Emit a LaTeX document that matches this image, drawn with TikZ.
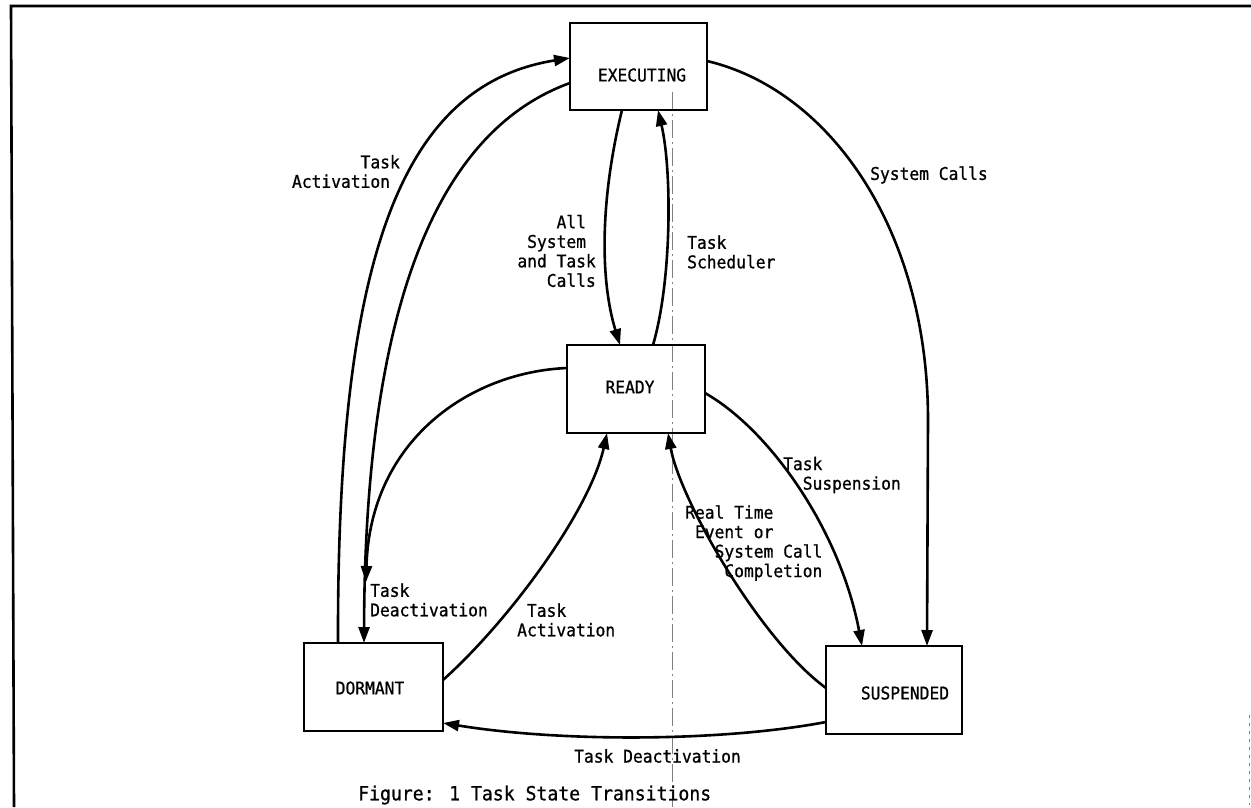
\documentclass[tikz,border=0pt]{standalone}
\usepackage{fontspec}
\usetikzlibrary{arrows.meta,calc}
\newfontfamily\lblfont[FakeStretch=0.93,FakeBold=0.8]{DejaVu Sans Mono}
\begin{document}
\begin{tikzpicture}[x=1pt,y=-1pt,
  statebox/.style={draw,line width=2.8pt,rectangle,inner sep=0pt,outer sep=0pt,minimum width=137pt,minimum height=87pt},
  lbl/.style={font=\lblfont\fontsize{17.5}{19.5}\selectfont,inner sep=0pt},
  caption/.style={font=\lblfont\fontsize{19.5}{22}\selectfont,inner sep=0pt},
  conn/.style={line width=2.6pt},
  arr/.style={conn,-{Triangle[length=16pt,width=11pt]}},
  frame/.style={line width=2.6pt},
  fold/.style={gray,line width=0.8pt,dash pattern=on 18pt off 4pt on 2pt off 4pt}]
\useasboundingbox (0,0) rectangle (1251,807);
\fill[white] (0,0) rectangle (1251,807);
% frame
\coordinate (fA) at (1251,6);
\coordinate (fB) at (11,6);
\coordinate (fC) at (14,807);
\draw[frame] (fA) -- (fB) -- (fC);
\coordinate (foldtop) at (672,92);
\coordinate (foldbot) at (672,807);
\draw[fold] (foldtop) -- (foldbot);
\coordinate (edgetop) at (1249,715);
\coordinate (edgebot) at (1249,805);
\draw[gray,line width=0.8pt,dash pattern=on 3pt off 5pt] (edgetop) -- (edgebot);
% states
\node[statebox] (exec) at (638.5,66.5) {};
\node[statebox,minimum width=138pt,minimum height=88pt] (ready) at (636,389) {};
\node[statebox,minimum width=139pt,minimum height=88pt] (dorm) at (373.5,687) {};
\node[statebox,minimum width=136pt,minimum height=88pt] (susp) at (894,690) {};
\node[lbl] (exect) at (642,75) {EXECUTING};
\node[lbl] (readyt) at (630,387) {READY};
\node[lbl] (dormt) at (370,688) {DORMANT};
\node[lbl] (suspt) at (905,693) {SUSPENDED};
% connectors
\draw[arr] ($(dorm.north)+(-35.5,0)$) .. controls (337,260) and (400,85) .. ($(exec.west)+(0,-8.5)$);
\draw[arr] ($(exec.west)+(0,16.5)$) .. controls (440,130) and (365,300) .. ($(dorm.north)+(-9.5,0)$);
\coordinate (rdend) at (366,582);
\draw[arr] ($(ready.west)+(0,-21)$) .. controls (470,372) and (370,440) .. (rdend);
\draw[arr] ($(exec.south)+(-16.5,0)$) .. controls (600,200) and (600,280) .. ($(ready.north)+(-16,0)$);
\draw[arr] ($(ready.north)+(17,0)$) .. controls (672,280) and (672,170) .. ($(exec.south)+(19.5,0)$);
\coordinate (scbend) at (928,420);
\draw[arr] ($(exec.east)+(0,-5.5)$) .. controls (830,90) and (928,230) .. (scbend) -- ($(susp.north)+(33,0)$);
\draw[arr] ($(ready.east)+(0,4)$) .. controls (770,430) and (840,530) .. ($(susp.north)+(-32,0)$);
\draw[arr] ($(susp.west)+(0,-2)$) .. controls (760,640) and (680,500) .. ($(ready.south)+(32,0)$);
\draw[arr] ($(dorm.east)+(0,-7)$) .. controls (510,620) and (590,510) .. ($(ready.south)+(-29,0)$);
\draw[arr] ($(susp.west)+(0,32)$) .. controls (720,742) and (560,742) .. ($(dorm.east)+(0,36)$);
% labels
\node[lbl,align=right,anchor=east] (l1) at (400,171.5) {Task\\Activation\phantom{x}};
\node[lbl,align=right,anchor=east] (l2) at (596,251) {All\phantom{x}\\System\phantom{x}\\and Task\\Calls};
\node[lbl,align=left,anchor=west] (l3) at (687,252) {Task\\Scheduler};
\node[lbl,anchor=west] (l4) at (870,175) {System Calls};
\node[lbl,align=left,anchor=west] (l5) at (783,475) {Task\\\phantom{xx}Suspension};
\node[lbl,align=left,anchor=west] (l6) at (685,543) {Real Time\\\phantom{x}Event or\\\phantom{xxx}System Call\\\phantom{xxxx}Completion};
\node[lbl,align=left,anchor=west] (l7) at (370,600) {Task\\Deactivation};
\node[lbl,align=left,anchor=west] (l8) at (517,620) {\phantom{x}Task\\Activation};
\node[lbl,anchor=west] (l9) at (574,756) {Task Deactivation};
\node[caption,anchor=west] (cap) at (358,795) {Figure: 1 Task State Transitions};
\end{tikzpicture}
\end{document}
